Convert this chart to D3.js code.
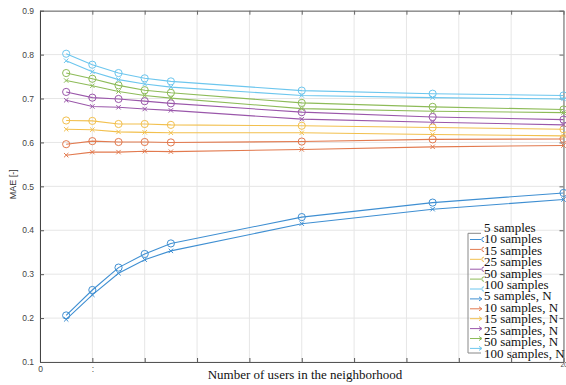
<!DOCTYPE html>
<html>
<head>
<meta charset="utf-8">
<script src="https://cdn.jsdelivr.net/npm/d3@7"></script>
<style>
  body { margin: 0; background: #fff; }
  svg { display: block; }
</style>
</head>
<body>
<svg id="chart" width="566" height="385"></svg>
<script>
// number of users (x) for every series
const xUsers = [1, 2, 3, 4, 5, 10, 15, 20];

const seriesNames = [
    '5 samples', '10 samples', '15 samples', '25 samples', '50 samples', '100 samples',
    '5 samples, N', '10 samples, N', '15 samples, N', '25 samples, N', '50 samples, N', '100 samples, N'
];

const mae5 = [0.206, 0.264, 0.315, 0.346, 0.370, 0.430, 0.463, 0.485];
const mae10 = [0.596, 0.603, 0.601, 0.601, 0.600, 0.602, 0.607, 0.608];
const mae15 = [0.650, 0.649, 0.642, 0.642, 0.640, 0.638, 0.634, 0.630];
const mae25 = [0.715, 0.702, 0.699, 0.694, 0.689, 0.669, 0.658, 0.652];
const mae50 = [0.758, 0.745, 0.730, 0.719, 0.713, 0.690, 0.681, 0.675];
const mae100 = [0.802, 0.777, 0.758, 0.746, 0.739, 0.718, 0.711, 0.707];
const mae5N = [0.197, 0.253, 0.302, 0.333, 0.353, 0.415, 0.448, 0.470];
const mae10N = [0.571, 0.578, 0.578, 0.580, 0.579, 0.584, 0.590, 0.593];
const mae15N = [0.630, 0.629, 0.624, 0.623, 0.622, 0.622, 0.618, 0.615];
const mae25N = [0.696, 0.682, 0.680, 0.676, 0.673, 0.653, 0.646, 0.640];
const mae50N = [0.741, 0.729, 0.716, 0.707, 0.701, 0.677, 0.671, 0.668];
const mae100N = [0.786, 0.761, 0.743, 0.733, 0.726, 0.707, 0.702, 0.699];

const seriesValues = [mae5, mae10, mae15, mae25, mae50, mae100,
    mae5N, mae10N, mae15N, mae25N, mae50N, mae100N];

const xTickValues = [0, 2, 4, 6, 8, 10, 12, 14, 16, 18, 20];
const xTickLabels = ['0', ':', '', '', '', '', '', '', '', '', '20'];
const yTickValues = [0.1, 0.2, 0.3, 0.4, 0.5, 0.6, 0.7, 0.8, 0.9];

const colors = ['#3f8fd2', '#e27a4f', '#f2c04e', '#9a57aa', '#8dbb58', '#6cc6ee'];

const svg = d3.select('#chart');
const plotL = 40, plotR = 563.5, plotT = 10.7, plotB = 362;

const x = d3.scaleLinear().domain([0, 20]).range([plotL, plotR]);
const y = d3.scaleLinear().domain([0.1, 0.9]).range([plotB, plotT]);

// grid
const grid = svg.append('g').attr('class', 'grid');
grid.selectAll('.gx')
    .data(xTickValues)
    .join('line')
    .attr('class', 'gx')
    .attr('x1', d => x(d)).attr('x2', d => x(d))
    .attr('y1', plotT).attr('y2', plotB)
    .attr('stroke', '#e6e6e6').attr('stroke-width', 1);
grid.selectAll('.gy')
    .data(yTickValues)
    .join('line')
    .attr('class', 'gy')
    .attr('x1', plotL).attr('x2', plotR)
    .attr('y1', d => y(d)).attr('y2', d => y(d))
    .attr('stroke', '#e6e6e6').attr('stroke-width', 1);

// axes (ticks inward)
svg.append('g')
    .attr('transform', `translate(0,${plotB})`)
    .call(d3.axisBottom(x).tickValues(xTickValues).tickSizeInner(-4).tickSizeOuter(0).tickPadding(4).tickFormat((d, i) => xTickLabels[i]))
    .call(g => g.select('.domain').attr('stroke', '#555'))
    .call(g => g.selectAll('.tick line').attr('stroke', '#555'))
    .call(g => g.selectAll('.tick text')
        .attr('font-family', 'Liberation Sans, Arial, sans-serif')
        .attr('font-size', d => d === 20 ? 6.5 : 8.5)
        .attr('fill', '#444')
        .attr('dy', d => d === 20 ? '0.2em' : '0.71em'));

svg.append('g')
    .attr('transform', `translate(0,${plotT})`)
    .call(d3.axisTop(x).tickValues(xTickValues).tickSizeInner(-4).tickSizeOuter(0).tickFormat(''))
    .call(g => g.select('.domain').attr('stroke', '#666'))
    .call(g => g.selectAll('.tick line').attr('stroke', '#666'));

svg.append('g')
    .attr('transform', `translate(${plotL},0)`)
    .call(d3.axisLeft(y).tickValues(yTickValues).tickSizeInner(-4).tickSizeOuter(0).tickPadding(6).tickFormat(d3.format('.1f')))
    .call(g => g.select('.domain').attr('stroke', '#444'))
    .call(g => g.selectAll('.tick line').attr('stroke', '#555'))
    .call(g => g.selectAll('.tick text')
        .attr('font-family', 'Liberation Sans, Arial, sans-serif')
        .attr('font-size', 8.5)
        .attr('fill', '#444'));

svg.append('g')
    .attr('transform', `translate(${plotR},0)`)
    .call(d3.axisRight(y).tickValues(yTickValues).tickSizeInner(-4).tickSizeOuter(0).tickFormat(''))
    .call(g => g.select('.domain').attr('stroke', '#666'))
    .call(g => g.selectAll('.tick line').attr('stroke', '#666'));

// axis titles
svg.append('text')
    .attr('transform', `translate(16,${y(0.5) - 2}) rotate(-90)`)
    .attr('text-anchor', 'middle')
    .attr('font-family', 'Liberation Sans, Arial, sans-serif')
    .attr('font-size', 9)
    .attr('fill', '#333')
    .text('MAE [-]');

svg.append('text')
    .attr('x', 305)
    .attr('y', 379)
    .attr('text-anchor', 'middle')
    .attr('font-family', 'Liberation Serif, Times New Roman, serif')
    .attr('font-size', 13)
    .attr('fill', '#111')
    .text('Number of users in the neighborhood');

// series
const line = d3.line().x(d => x(d[0])).y(d => y(d[1]));
const series = seriesValues.map((vals, i) => ({
    name: seriesNames[i],
    color: colors[i % 6],
    cross: i >= 6,
    points: vals.map((v, k) => [xUsers[k], v])
}));

const sg = svg.selectAll('.series')
    .data(series)
    .join('g')
    .attr('class', 'series');

sg.append('path')
    .attr('d', d => line(d.points))
    .attr('fill', 'none')
    .attr('stroke', d => d.color)
    .attr('stroke-width', 1.1);

sg.each(function (d) {
    const g = d3.select(this);
    if (!d.cross) {
        g.selectAll('circle')
            .data(d.points)
            .join('circle')
            .attr('cx', p => x(p[0]))
            .attr('cy', p => y(p[1]))
            .attr('r', 3.6)
            .attr('fill', 'none')
            .attr('stroke', d.color)
            .attr('stroke-width', 1);
    } else {
        g.selectAll('path.mk')
            .data(d.points)
            .join('path')
            .attr('class', 'mk')
            .attr('d', p => {
                const cx = x(p[0]), cy = y(p[1]), s = 2.2;
                return `M${cx - s},${cy - s}L${cx + s},${cy + s}M${cx - s},${cy + s}L${cx + s},${cy - s}`;
            })
            .attr('stroke', d.color)
            .attr('stroke-width', 1);
    }
});

// legend (box partly hidden behind text, markers shifted like the export)
const lg = svg.append('g').attr('class', 'legend');
lg.append('path')
    .attr('d', 'M481,233.3H468V353H481')
    .attr('fill', 'none')
    .attr('stroke', '#888')
    .attr('stroke-width', 1);

lg.selectAll('.lmark')
    .data(series)
    .join('g')
    .attr('class', 'lmark')
    .attr('transform', (d, i) => `translate(0,${239.5 + i * 9.9})`)
    .each(function (d) {
        const g = d3.select(this);
        g.append('line')
            .attr('x1', 470).attr('x2', 481)
            .attr('y1', 0).attr('y2', 0)
            .attr('stroke', d.color).attr('stroke-width', 1);
        if (!d.cross) {
            g.append('path')
                .attr('d', 'M484,-2.2A2.2,2.2 0 0 0 484,2.2')
                .attr('fill', 'none')
                .attr('stroke', d.color).attr('stroke-width', 1);
        } else {
            g.append('path')
                .attr('d', 'M479,-2L482,0L479,2')
                .attr('fill', 'none')
                .attr('stroke', d.color).attr('stroke-width', 1);
        }
    });

lg.selectAll('.ltext')
    .data(series)
    .join('text')
    .attr('class', 'ltext')
    .attr('x', 484)
    .attr('y', (d, i) => 227.3 + i * 11.43)
    .attr('dy', '0.35em')
    .attr('font-family', 'Liberation Serif, Times New Roman, serif')
    .attr('font-size', 13)
    .attr('fill', '#111')
    .text(d => d.name);
</script>
</body>
</html>
